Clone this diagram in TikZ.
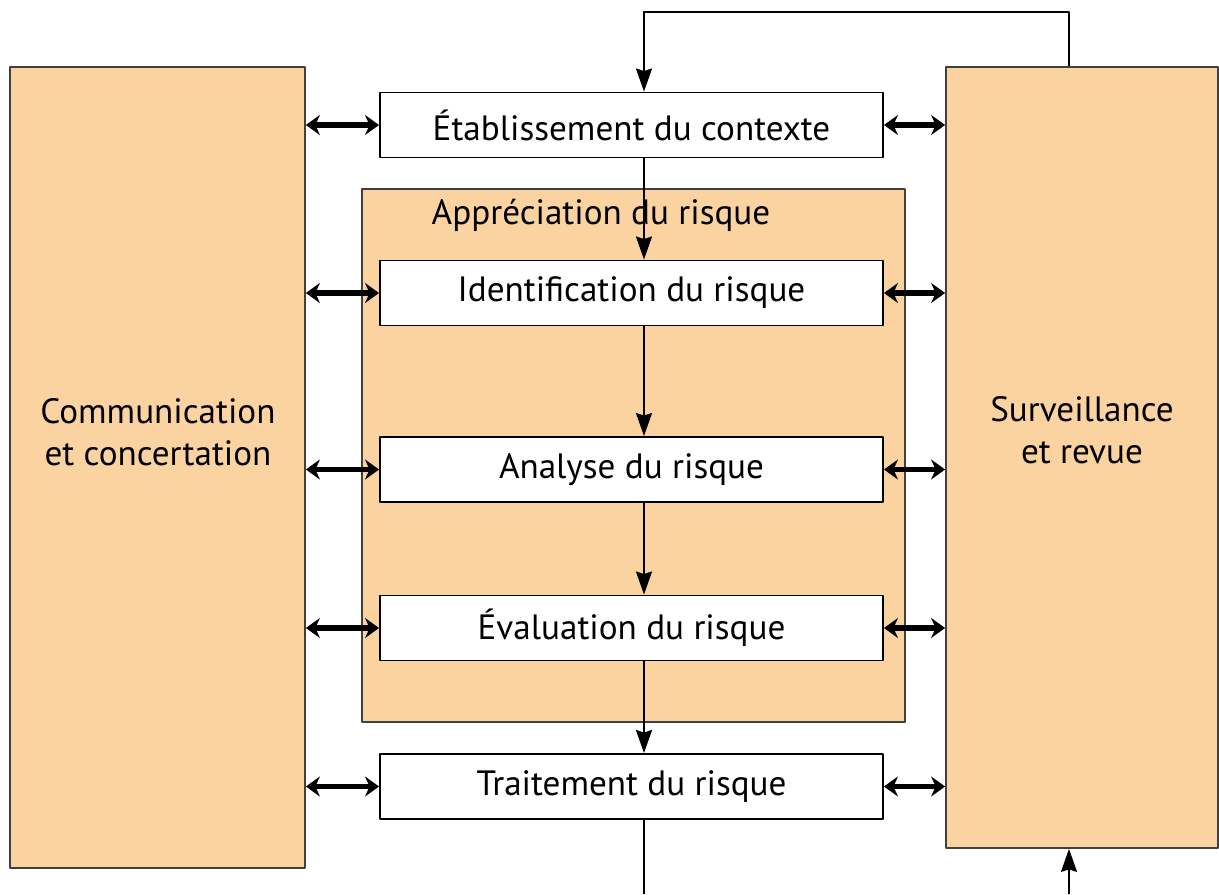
\documentclass[tikz,border=0pt]{standalone}
\usepackage{fontspec}
\setmainfont{PT Sans}
\usetikzlibrary{arrows.meta}
\definecolor{peche}{RGB}{250,211,160}
\begin{document}
\begin{tikzpicture}[x=0.2mm,y=-0.2mm,font=\fontsize{20}{24}\selectfont, line join=round, >={Stealth[length=4.6mm,width=3.2mm,inset=0.5mm]},
  etape/.style={draw,fill=white,line width=1.1pt,minimum width=100.6mm,minimum height=13mm,inner sep=0pt},
  panneau/.style={draw=black!75,fill=peche,line width=1pt,inner sep=0pt},
  lien/.style={{Stealth[length=2.8mm,width=4mm]}-{Stealth[length=2.8mm,width=4mm]},line width=3pt},
  fleche/.style={->,line width=1.1pt}]
  \useasboundingbox (0,0) rectangle (1219,894);
  \node[panneau,minimum width=59mm,minimum height=160.2mm] (comm) at (157.5,467.5) {};
  \node[panneau,minimum width=54.4mm,minimum height=156.2mm] (surv) at (1082,457.5) {};
  \node[panneau,minimum width=108.6mm,minimum height=106.6mm] (appr) at (633.5,455.5) {};
  \node[align=center] (commtxt) at (158,432) {Communication\\et concertation};
  \node[align=center] (survtxt) at (1082,430) {Surveillance\\et revue};
  \node[anchor=base] (apprtxt) at (601,224) {Appréciation du risque};
  \node[etape] (etab) at (631.5,125) {Établissement du contexte};
  \node[etape] (ident) at (631.5,293) {Identification du risque};
  \node[etape] (analyse) at (631.5,469.5) {Analyse du risque};
  \node[etape] (eval) at (631.5,628) {Évaluation du risque};
  \node[etape] (trait) at (631.5,786.5) {Traitement du risque};
  \coordinate (sortie) at (644,894);
  \coordinate (entree) at (1069,894);
  % flux principal
  \draw[fleche] ([xshift=-2.6mm]surv.north) -- ++(0,-54) -| ([xshift=2.5mm]etab.north);
  \draw[fleche] ([xshift=2.5mm]etab.south) -- ([xshift=2.5mm]ident.north);
  \draw[fleche] ([xshift=2.5mm]ident.south) -- ([xshift=2.5mm]analyse.north);
  \draw[fleche] ([xshift=2.5mm]analyse.south) -- ([xshift=2.5mm]eval.north);
  \draw[fleche] ([xshift=2.5mm]eval.south) -- ([xshift=2.5mm]trait.north);
  \draw[line width=1.1pt] ([xshift=2.5mm]trait.south) -- (sortie);
  \draw[fleche] (entree) -- ([xshift=-2.6mm]surv.south);
  % echanges
  \foreach \e in {etab,ident,analyse,eval,trait}{
    \draw[lien] (comm.east |- \e) -- (\e.west);
    \draw[lien] (\e.east) -- (surv.west |- \e);
  }
\end{tikzpicture}
\end{document}
